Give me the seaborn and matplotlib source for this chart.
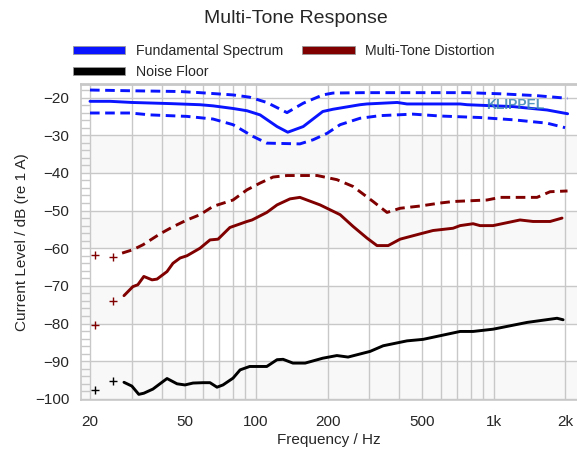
import matplotlib
matplotlib.use("Agg")
import matplotlib.pyplot as plt
from matplotlib.patches import Patch
from matplotlib.ticker import FixedLocator, FixedFormatter, MultipleLocator, NullFormatter
import seaborn as sns

# fundamental spectrum (solid) and its upper / lower dashed bounds
fund_freq = [20, 24.3, 30, 43.4, 58.1, 65.9, 80, 91.6, 104, 122.6, 136, 158, 191, 211,
             274, 293, 393, 432, 723, 774, 1208, 1680, 2050]
fund_level = [-21.0, -21.0, -21.3, -21.6, -21.9, -22.2, -22.9, -23.5, -24.6, -27.7, -29.2,
              -27.7, -23.7, -23.1, -21.9, -21.7, -21.3, -21.7, -21.7, -21.9, -22.4, -23.3, -24.3]

fund_hi_freq = [20, 30, 47.9, 58.1, 80, 94, 111, 135, 158, 191, 211, 282, 774, 1066, 1524, 2048]
fund_hi_level = [-18.0, -18.2, -18.4, -18.7, -19.3, -19.9, -21.3, -24.0, -21.5, -19.3, -18.8,
                 -18.7, -18.7, -19.0, -19.5, -20.2]

fund_lo_freq = [20, 29.5, 35.8, 51.2, 65.9, 80, 97, 111, 153, 174, 199, 226, 274, 333, 458,
                596, 877, 1208, 1680, 2000]
fund_lo_level = [-24.1, -24.1, -24.6, -25.0, -25.7, -27.2, -30.3, -32.1, -32.3, -31.2, -29.5,
                 -27.2, -25.5, -24.8, -24.4, -24.9, -25.3, -25.9, -26.8, -28.0]

# multi-tone distortion (solid) and its dashed upper bound
dist_freq = [27.8, 30.3, 31.8, 33.7, 36.5, 38.3, 42.2, 44.7, 47.9, 51.2, 58.1, 64, 69.2, 77.6,
             91.6, 96.2, 111, 122.6, 139, 153, 186, 226, 256, 293, 323, 360, 404, 490, 556,
             675, 723, 820, 877, 995, 1292, 1466, 1730, 1942]
dist_level = [-72.6, -70.2, -69.7, -67.5, -68.4, -68.2, -66.2, -64.0, -62.6, -62.0, -60.0,
              -57.8, -57.6, -54.5, -52.9, -52.5, -50.5, -48.5, -46.9, -46.5, -48.5, -51.1,
              -54.2, -57.3, -59.3, -59.3, -57.6, -56.2, -55.3, -54.7, -54.0, -53.5, -54.0,
              -54.0, -52.5, -52.9, -52.9, -52.0]

dist_hi_freq = [27.3, 30.3, 33.4, 39.4, 44.7, 51.2, 58.1, 65.9, 80, 91.6, 104, 118, 135, 181,
                219, 256, 311, 356, 404, 490, 596, 675, 938, 1066, 1524, 1730, 2048]
dist_hi_level = [-61.3, -60.4, -59.1, -56.2, -54.3, -52.5, -51.1, -48.9, -47.2, -44.5, -42.7,
                 -41.1, -40.7, -40.7, -41.8, -43.6, -47.6, -50.5, -49.4, -48.8, -48.0, -47.6,
                 -47.2, -46.5, -46.5, -45.0, -44.8]

# noise floor
noise_freq = [27.8, 30.0, 32.1, 33.7, 36.8, 39.4, 42.2, 46.5, 50.2, 54.3, 59.8, 64, 68.5, 72.6,
              80, 85.7, 94, 111, 122.6, 130, 143, 161, 191, 219, 244, 302, 343, 432, 505, 723,
              820, 995, 1384, 1850, 1962]
noise_level = [-95.6, -96.6, -98.8, -98.5, -97.4, -96.0, -94.6, -96.0, -96.3, -95.8, -95.7,
               -95.7, -96.9, -96.3, -94.5, -92.3, -91.4, -91.4, -89.6, -89.5, -90.5, -90.5,
               -89.2, -88.5, -88.9, -87.4, -85.9, -84.6, -84.2, -82.1, -82.1, -81.5, -79.7,
               -78.6, -79.0]

# single low-frequency points drawn as '+'
pts_freq = [21, 25]
dist_pts_level = [-80.5, -73.9]
dist_hi_pts_level = [-61.8, -62.2]
noise_pts_level = [-97.6, -95.2]

grid_freq = [20, 30, 40, 50, 60, 70, 80, 90, 100, 200, 300, 400, 500, 600, 700, 800, 900,
             1000, 2000]
tick_freq = [20, 50, 100, 200, 500, 1000, 2000]
tick_labels = ["20", "50", "100", "200", "500", "1k", "2k"]

BLUE = "#0a14ff"
RED = "#800000"
GRID = "#c8c8c8"

sns.set_style("white")
plt.rcParams["font.family"] = ["Liberation Sans", "DejaVu Sans"]

fig = plt.figure(figsize=(5.77, 4.5), dpi=100)
ax = fig.add_axes([81 / 577, 50 / 450, 496 / 577, 316 / 450])
ax.set_xscale("log")
ax.set_xlim(18.33, 2245)
ax.set_ylim(-100.3, -16.4)

# alternating background bands
for lo in (-40, -60, -80):
    ax.axhspan(lo, lo + 10, color="#f8f8f8", zorder=0, lw=0)
ax.axhspan(-100.3, -90, color="#f8f8f8", zorder=0, lw=0)

for f in grid_freq:
    ax.axvline(f, color=GRID, lw=1.0, zorder=1)
for v in range(-100, -10, 10):
    ax.axhline(v, color=GRID, lw=1.0, zorder=1)

lw = 2.1
dash = (0, (3.3, 1.9))
sns.lineplot(x=fund_hi_freq, y=fund_hi_level, ax=ax, color=BLUE, lw=lw, linestyle=dash)
sns.lineplot(x=fund_lo_freq, y=fund_lo_level, ax=ax, color=BLUE, lw=lw, linestyle=dash)
sns.lineplot(x=fund_freq, y=fund_level, ax=ax, color=BLUE, lw=lw)
sns.lineplot(x=dist_hi_freq, y=dist_hi_level, ax=ax, color=RED, lw=lw, linestyle=dash)
sns.lineplot(x=dist_freq, y=dist_level, ax=ax, color=RED, lw=lw)
sns.lineplot(x=noise_freq, y=noise_level, ax=ax, color="black", lw=lw)

sns.scatterplot(x=pts_freq, y=dist_pts_level, ax=ax, color=RED, marker="+", s=30, linewidth=1)
sns.scatterplot(x=pts_freq, y=dist_hi_pts_level, ax=ax, color=RED, marker="+", s=30, linewidth=1)
sns.scatterplot(x=pts_freq, y=noise_pts_level, ax=ax, color="black", marker="+", s=30, linewidth=1)

ax.text(0.875, 0.934, "KLIPPEL", transform=ax.transAxes, ha="center", va="center",
        fontsize=10, fontweight="bold", color="#3a85b5", alpha=0.85, zorder=5)

ax.xaxis.set_major_locator(FixedLocator(tick_freq))
ax.xaxis.set_major_formatter(FixedFormatter(tick_labels))
ax.xaxis.set_minor_formatter(NullFormatter())
ax.tick_params(axis="x", which="both", length=0, labelsize=11, pad=11)
ax.yaxis.set_major_locator(MultipleLocator(10))
ax.yaxis.set_minor_locator(MultipleLocator(2))
ax.tick_params(axis="y", which="major", direction="out", length=6.5, color=GRID,
               width=1, labelsize=11, pad=2)
ax.tick_params(axis="y", which="minor", direction="in", length=6.5, color=GRID, width=1,
               left=True)

for side in ("left", "bottom", "top"):
    ax.spines[side].set_color(GRID)
    ax.spines[side].set_linewidth(1.2)
ax.spines["top"].set_linewidth(2)
ax.spines["right"].set_visible(False)

ax.set_xlabel("Frequency / Hz", fontsize=11, labelpad=3)
ax.set_ylabel("Current Level / dB (re 1 A)", fontsize=11, labelpad=4)
fig.suptitle("Multi-Tone Response", x=296 / 577, y=1 - 10 / 450, va="top", fontsize=14)

# ncol=2 fills column-wise, so order handles to get the reference rows
handles = [Patch(facecolor=BLUE, edgecolor="#999999", lw=0.6),
           Patch(facecolor="black", edgecolor="#999999", lw=0.6),
           Patch(facecolor=RED, edgecolor="#999999", lw=0.6)]
labels = ["Fundamental Spectrum", "Noise Floor", "Multi-Tone Distortion"]
fig.legend(handles, labels, loc="upper left", bbox_to_anchor=(73 / 577, 1 - 44 / 450),
           ncol=2, frameon=False, fontsize=10.2, handlelength=3.7, handleheight=0.45,
           handletextpad=0.75, columnspacing=1.35, labelspacing=0.5, borderpad=0,
           borderaxespad=0)

fig.savefig("out.png", dpi=100)
